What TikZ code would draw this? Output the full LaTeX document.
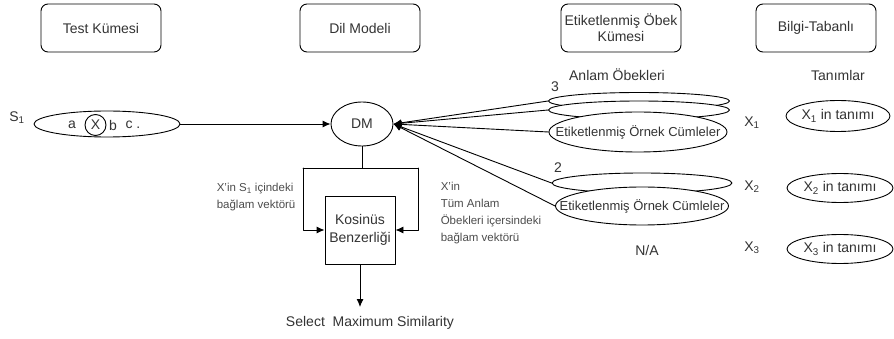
\documentclass[tikz,border=0pt]{standalone}
\usepackage{fontspec}
\setmainfont{Liberation Sans}
\usetikzlibrary{arrows.meta,shapes.geometric}
\newcommand{\fsz}[2]{\fontsize{#1}{#2}\selectfont}

\begin{document}
\begin{tikzpicture}[x=1pt, y=-1pt, line cap=round, line join=round, line width=0.9pt]
    \useasboundingbox (0,0) rectangle (894,339);

    \tikzset{
        titlebox/.style={draw, rounded corners=7pt, minimum width=120pt, minimum height=48pt,
            align=center, inner sep=1pt, font=\fsz{14}{16}, text=black!80},
        ell/.style={draw, fill=white, ellipse, inner sep=0pt},
        lbl/.style={font=\fsz{14}{18}, text=black!80},
        small/.style={font=\fsz{11.5}{17}, align=left, text=black!70},
        arr/.style={-{Latex[length=8pt, width=7pt]}}
    }

    \node[titlebox] (test)  at (101,28) {Test Kümesi};
    \node[titlebox] (dil)   at (360,28) {Dil Modeli};
    \node[titlebox] (obek)  at (621,28) {Etiketlenmiş Öbek\\Kümesi};
    \node[titlebox] (bilgi) at (816,28) {Bilgi-Tabanlı};

    \node[lbl] (anlam)    at (617,75) {Anlam Öbekleri};
    \node[lbl] (tanimlar) at (838,75) {Tanımlar};

    % test sentence
    \node[lbl] (s1lbl) at (17,118) {S\textsubscript{1}};
    \node[ell, minimum width=146pt, minimum height=26pt] (s1) at (107,124) {};
    \node[lbl] (wa) at (72,125) {a};
    \node[draw, circle, minimum size=21pt, inner sep=0pt, lbl] (wx) at (95.5,125) {X};
    \node[lbl] (wb) at (113,125) {b};
    \node[lbl] (wc) at (133,125) {c .};

    \node[ell, minimum width=62pt, minimum height=44pt, lbl] (dm) at (362,124) {DM};
    \draw[arr] (s1.east) -- (dm.west);

    % sense groups
    \node[lbl] (n3) at (555,87) {3};
    \node[ell, minimum width=181pt, minimum height=17pt] (g3a) at (639,101) {};
    \node[ell, minimum width=181pt, minimum height=18pt] (g3b) at (639,110) {};
    \node[ell, minimum width=178pt, minimum height=40pt] (g3c) at (638,132) {};
    \node[lbl, font=\fsz{13}{15}] (g3ct) at (g3c) {Etiketlenmiş Örnek Cümleler};

    \node[lbl] (n2) at (558,168) {2};
    \node[ell, minimum width=180pt, minimum height=20pt] (g2a) at (642,183) {};
    \node[ell, minimum width=173pt, minimum height=38pt] (g2b) at (642,206) {};
    \node[lbl, font=\fsz{13}{15}] (g2bt) at (g2b) {Etiketlenmiş Örnek Cümleler};

    \node[lbl] (na) at (647,250) {N/A};

    \foreach \g in {g3a,g3b,g3c,g2a,g2b}
        \draw[arr] (\g.west) -- (dm.east);

    % definitions
    \node[lbl] (x1) at (752,123) {X\textsubscript{1}};
    \node[lbl] (x2) at (752,187) {X\textsubscript{2}};
    \node[lbl] (x3) at (752,248) {X\textsubscript{3}};
    \node[ell, minimum width=104pt, minimum height=31pt, lbl] (d1) at (838,116) {X\textsubscript{1} in tanımı};
    \node[ell, minimum width=106pt, minimum height=29pt, lbl] (d2) at (840,188) {X\textsubscript{2} in tanımı};
    \node[ell, minimum width=106pt, minimum height=29pt, lbl] (d3) at (840,249) {X\textsubscript{3} in tanımı};

    % similarity
    \node[draw, minimum width=70pt, minimum height=68pt, align=center, lbl] (kos) at (360,230) {Kosinüs\\Benzerliği};
    \coordinate (jl) at (303,168);
    \coordinate (jr) at (418,168);
    \draw (dm.south) -- (dm.south |- jl);
    \draw (jl) -- (jr);
    \draw[arr] (jl) -- (jl |- kos.west) -- (kos.west);
    \draw[arr] (jr) -- (jr |- kos.east) -- (kos.east);

    \node[small, anchor=west] (vl) at (213,197) {X'in S\textsubscript{1} içindeki\\bağlam vektörü};
    \node[small, anchor=west] (vr) at (437,213) {X'in\\Tüm Anlam\\Öbekleri içersindeki\\bağlam vektörü};

    \coordinate (selin) at (360,307);
    \draw[arr] (kos.south) -- (selin);
    \node[lbl] (sel) at (370,323) {Select\ \ Maximum Similarity};
\end{tikzpicture}
\end{document}
